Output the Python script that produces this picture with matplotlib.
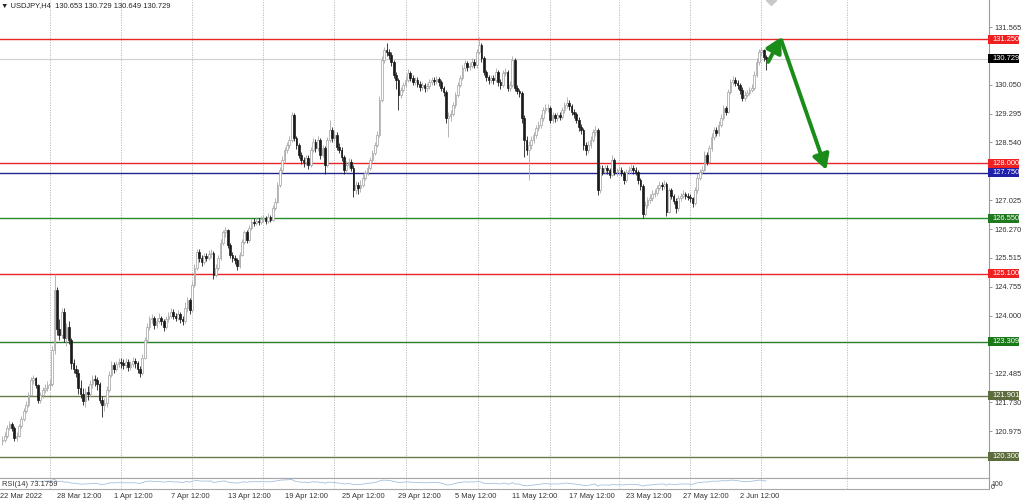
import matplotlib
matplotlib.use('Agg')
import matplotlib.pyplot as plt
import numpy as np
from matplotlib.patches import Rectangle

# ---------------- data ----------------
first_open = 120.70
closes = [
    120.74, 120.84, 121.05, 121.16, 121.05, 120.80, 120.85, 121.10, 121.30, 121.50,
    121.66, 121.92, 122.31, 122.36, 122.18, 121.80, 121.92, 122.05, 122.10, 122.18,
    122.20, 123.10, 124.67, 123.65, 123.50, 124.10, 123.40, 123.70, 123.35, 122.75,
    122.60, 122.50, 122.10, 121.95, 121.75, 122.00, 121.95, 122.20, 122.35, 122.30,
    122.20, 121.80, 121.65, 121.70, 122.05, 122.45, 122.70, 122.60, 122.72, 122.78,
    122.75, 122.70, 122.78, 122.65, 122.72, 122.80, 122.75, 122.60, 122.50, 122.90,
    123.35, 123.70, 123.90, 123.95, 123.75, 123.85, 123.95, 123.85, 123.70, 123.90,
    124.00, 124.10, 124.00, 123.95, 124.05, 123.90, 123.85, 124.20, 124.40, 124.15,
    124.80, 125.25, 125.67, 125.51, 125.41, 125.56, 125.51, 125.62, 125.64, 125.07,
    125.25, 125.51, 125.90, 126.19, 126.24, 125.85, 125.59, 125.51, 125.46, 125.30,
    125.59, 125.93, 126.19, 125.98, 126.30, 126.45, 126.43, 126.48, 126.45, 126.53,
    126.56, 126.48, 126.59, 126.51, 126.82, 126.98, 127.42, 127.82, 128.08, 128.34,
    128.47, 128.60, 129.26, 128.66, 128.47, 128.21, 128.08, 128.03, 128.13, 127.95,
    128.34, 128.55, 128.39, 128.60, 128.21, 128.39, 127.95, 128.60, 128.87, 128.66,
    128.73, 128.42, 128.34, 128.16, 127.82, 127.95, 128.03, 127.87, 127.29, 127.42,
    127.34, 127.42, 127.61, 127.74, 127.87, 128.08, 128.26, 128.47, 128.73, 129.65,
    130.70, 130.96, 130.91, 130.83, 130.65, 130.31, 130.17, 129.78, 129.91, 130.04,
    130.18, 130.36, 130.23, 130.12, 130.18, 130.07, 129.99, 130.04, 129.96, 130.02,
    130.12, 130.18, 130.15, 130.20, 130.12, 129.96, 129.86, 129.18, 129.23, 129.28,
    129.52, 129.78, 130.04, 130.23, 130.49, 130.62, 130.52, 130.54, 130.65, 130.57,
    130.91, 131.09, 130.75, 130.39, 130.25, 130.18, 130.23, 130.18, 130.39, 130.12,
    130.04, 130.36, 130.39, 129.97, 130.04, 130.70, 129.97, 129.89, 129.83, 129.18,
    128.60, 128.34, 128.47, 128.60, 128.73, 128.92, 129.00, 129.18, 129.39, 129.44,
    129.44, 129.13, 129.26, 129.18, 129.26, 129.21, 129.39, 129.52, 129.57, 129.49,
    129.34, 129.28, 129.13, 128.94, 128.87, 128.47, 128.34, 128.47, 128.60, 128.81,
    128.87, 127.29, 127.87, 127.77, 127.87, 127.82, 127.69, 128.08, 127.77, 127.77,
    127.82, 127.74, 127.56, 127.77, 127.82, 127.87, 127.82, 127.77, 127.56, 127.40,
    126.66, 126.90, 127.03, 127.08, 127.19, 127.21, 127.34, 127.42, 127.40, 127.45,
    126.72, 127.29, 127.14, 127.01, 126.82, 127.08, 127.14, 127.19, 127.14, 127.11,
    127.08, 126.95, 127.29, 127.61, 127.77, 127.82, 128.21, 128.03, 128.39, 128.68,
    128.87, 128.79, 129.00, 129.18, 129.44, 129.34, 129.86, 130.12, 130.17, 130.10,
    130.04, 129.91, 129.70, 129.78, 129.83, 129.91, 129.97, 130.31, 130.65, 130.91,
    130.96, 130.78, 130.729,
]
highs = [
    120.85, 120.95, 121.12, 121.25, 121.22, 121.10, 120.95, 121.15, 121.36, 121.58,
    121.75, 122.00, 122.38, 122.45, 122.40, 122.22, 122.00, 122.12, 122.20, 122.28,
    122.35, 123.20, 125.10, 124.75, 123.90, 124.20, 124.20, 123.80, 123.85, 123.40,
    122.85, 122.70, 122.60, 122.30, 122.10, 122.10, 122.15, 122.30, 122.45, 122.45,
    122.40, 122.25, 121.90, 121.85, 122.15, 122.55, 122.80, 122.78, 122.82, 122.88,
    122.90, 122.85, 122.88, 122.85, 122.82, 122.92, 122.90, 122.80, 122.68, 123.00,
    123.45, 123.80, 124.00, 124.05, 124.00, 123.95, 124.08, 124.00, 123.92, 124.00,
    124.10, 124.20, 124.18, 124.08, 124.15, 124.10, 124.00, 124.35, 124.48, 124.45,
    124.90, 125.35, 125.75, 125.75, 125.60, 125.65, 125.65, 125.72, 125.75, 125.70,
    125.35, 125.60, 126.00, 126.25, 126.32, 126.28, 125.90, 125.68, 125.60, 125.52,
    125.68, 126.02, 126.25, 126.25, 126.38, 126.52, 126.55, 126.58, 126.56, 126.62,
    126.65, 126.62, 126.68, 126.65, 126.90, 127.08, 127.50, 127.90, 128.18, 128.42,
    128.56, 128.70, 129.35, 129.30, 128.72, 128.52, 128.28, 128.15, 128.22, 128.20,
    128.42, 128.65, 128.62, 128.70, 128.65, 128.48, 128.45, 128.68, 129.13, 128.95,
    128.85, 128.80, 128.52, 128.42, 128.22, 128.05, 128.12, 128.10, 127.95, 127.52,
    127.50, 127.55, 127.70, 127.82, 127.95, 128.15, 128.35, 128.55, 128.85, 129.75,
    130.80, 131.05, 131.15, 131.00, 130.90, 130.70, 130.38, 130.22, 130.00, 130.12,
    130.28, 130.46, 130.42, 130.30, 130.26, 130.25, 130.15, 130.12, 130.10, 130.10,
    130.20, 130.26, 130.25, 130.28, 130.26, 130.18, 130.02, 129.92, 129.35, 129.40,
    129.60, 129.85, 130.12, 130.32, 130.58, 130.70, 130.68, 130.65, 130.75, 130.72,
    131.00, 131.30, 131.15, 130.80, 130.45, 130.32, 130.32, 130.30, 130.48, 130.45,
    130.20, 130.45, 130.48, 130.45, 130.15, 130.80, 130.75, 130.05, 129.95, 129.90,
    129.25, 128.70, 128.58, 128.70, 128.82, 129.00, 129.10, 129.28, 129.48, 129.55,
    129.55, 129.50, 129.35, 129.32, 129.35, 129.35, 129.48, 129.60, 129.72, 129.65,
    129.55, 129.42, 129.35, 129.20, 129.02, 128.92, 128.55, 128.58, 128.70, 128.90,
    128.98, 128.92, 127.95, 127.95, 127.95, 127.95, 127.88, 128.22, 128.12, 127.88,
    127.92, 127.90, 127.80, 127.85, 127.92, 127.98, 127.95, 127.90, 127.82, 127.62,
    127.45, 127.00, 127.12, 127.18, 127.28, 127.32, 127.42, 127.52, 127.50, 127.55,
    127.50, 127.35, 127.35, 127.20, 127.08, 127.15, 127.22, 127.28, 127.25, 127.22,
    127.20, 127.12, 127.38, 127.70, 127.85, 127.92, 128.32, 128.28, 128.48, 128.78,
    128.95, 128.95, 129.10, 129.28, 129.52, 129.50, 129.95, 130.20, 130.28, 130.25,
    130.18, 130.10, 129.98, 129.88, 129.92, 130.00, 130.08, 130.40, 130.75, 131.00,
    131.03, 131.00, 130.82,
]
lows = [
    120.62, 120.68, 120.80, 121.00, 120.98, 120.70, 120.72, 120.82, 121.05, 121.25,
    121.45, 121.60, 121.88, 122.20, 122.10, 121.72, 121.70, 121.85, 121.98, 122.02,
    122.05, 122.15, 123.00, 123.50, 123.35, 123.40, 123.30, 123.20, 123.25, 122.60,
    122.50, 122.40, 121.95, 121.85, 121.65, 121.60, 121.80, 121.90, 122.10, 122.15,
    122.05, 121.70, 121.35, 121.50, 121.60, 122.00, 122.40, 122.50, 122.55, 122.65,
    122.62, 122.60, 122.62, 122.55, 122.58, 122.65, 122.62, 122.50, 122.40, 122.45,
    122.85, 123.30, 123.62, 123.80, 123.65, 123.68, 123.80, 123.75, 123.60, 123.65,
    123.82, 123.95, 123.90, 123.85, 123.88, 123.80, 123.75, 123.80, 124.10, 124.05,
    124.10, 124.75, 125.20, 125.40, 125.30, 125.35, 125.42, 125.45, 125.52, 124.97,
    125.00, 125.20, 125.45, 125.85, 126.05, 125.78, 125.50, 125.40, 125.35, 125.20,
    125.25, 125.55, 125.88, 125.90, 125.92, 126.25, 126.35, 126.38, 126.38, 126.40,
    126.45, 126.40, 126.42, 126.45, 126.48, 126.78, 126.95, 127.38, 127.75, 128.00,
    128.25, 128.40, 128.55, 128.58, 128.38, 128.12, 127.98, 127.90, 127.95, 127.85,
    127.90, 128.28, 128.30, 128.32, 128.10, 128.15, 127.70, 127.90, 128.55, 128.55,
    128.58, 128.35, 128.25, 128.05, 127.72, 127.75, 127.88, 127.78, 127.10, 127.20,
    127.18, 127.25, 127.38, 127.55, 127.68, 127.82, 128.02, 128.20, 128.42, 128.68,
    129.60, 130.62, 130.80, 130.72, 130.55, 130.22, 129.95, 129.40, 129.70, 129.85,
    129.98, 130.12, 130.15, 130.05, 130.05, 129.98, 129.90, 129.92, 129.85, 129.90,
    129.95, 130.05, 130.05, 130.08, 130.02, 129.88, 129.75, 129.05, 128.68, 129.10,
    129.22, 129.45, 129.72, 129.98, 130.18, 130.42, 130.42, 130.45, 130.48, 130.48,
    130.50, 130.85, 130.65, 130.30, 130.15, 130.08, 130.10, 130.08, 130.12, 130.02,
    129.95, 129.98, 130.28, 129.88, 129.90, 129.98, 129.88, 129.80, 129.72, 129.05,
    128.15, 128.22, 127.55, 128.38, 128.52, 128.65, 128.85, 128.92, 129.10, 129.30,
    129.35, 129.05, 129.05, 129.08, 129.10, 129.12, 129.15, 129.32, 129.45, 129.40,
    129.25, 129.18, 129.05, 128.85, 128.75, 128.35, 128.22, 128.25, 128.40, 128.55,
    128.72, 127.15, 127.22, 127.68, 127.70, 127.72, 127.60, 127.65, 127.68, 127.65,
    127.70, 127.65, 127.45, 127.50, 127.70, 127.75, 127.72, 127.68, 127.45, 127.30,
    126.55, 126.60, 126.82, 126.95, 127.00, 127.10, 127.15, 127.28, 127.30, 127.32,
    126.60, 126.68, 127.05, 126.92, 126.70, 126.75, 127.00, 127.08, 127.05, 127.02,
    126.98, 126.85, 126.90, 127.22, 127.55, 127.70, 127.78, 127.95, 127.98, 128.32,
    128.60, 128.70, 128.72, 128.95, 129.12, 129.25, 129.30, 129.80, 130.05, 130.02,
    129.95, 129.82, 129.62, 129.62, 129.72, 129.78, 129.85, 129.92, 130.25, 130.58,
    130.80, 130.68, 130.45,
]

levels = [131.250, 128.000, 127.750, 126.550, 125.100, 123.309, 121.901, 120.300]
level_labels = ['131.250', '128.000', '127.750', '126.550', '125.100', '123.309', '121.901', '120.300']
level_line_colors = ['#e8262a', '#e8262a', '#23238f', '#2a8a2a', '#e8262a', '#2c7d2c', '#6a7a48', '#6a7a48']
level_box_colors = ['#ee2020', '#ee2020', '#2020a8', '#1f7a1f', '#ee2020', '#1a7a1a', '#5d6c3c', '#5d6c3c']
last_price = 130.729
last_label = '130.729'
# scale labels that stay visible next to the level boxes
y_ticks = [131.565, 130.050, 129.295, 128.540, 127.025,
           126.270, 125.515, 124.755, 124.000, 122.485, 121.730, 120.975]
x_tick_bars = [-1, 23, 47, 71, 95, 119, 143, 167, 191, 215, 239, 263, 287, 311]
x_tick_labels = ['22 Mar 2022', '28 Mar 12:00', '1 Apr 12:00', '7 Apr 12:00', '13 Apr 12:00',
                 '19 Apr 12:00', '25 Apr 12:00', '29 Apr 12:00', '5 May 12:00', '11 May 12:00',
                 '17 May 12:00', '23 May 12:00', '27 May 12:00', '2 Jun 12:00']
grid_bars = [20.2, 50.1, 80.0, 109.9, 139.8, 170.1, 200.4, 230.7, 260.2, 290.1, 320.0, 356.2]
arrow_up = [(322.9, 130.65), (328.4, 131.30)]
arrow_down = [(328.4, 131.22), (347.4, 127.82)]
title_text = 'USDJPY,H4  130.653 130.729 130.649 130.729'
rsi_text = 'RSI(14) 73.1759'

# ---------------- figure ----------------
FONT = ['Liberation Sans', 'DejaVu Sans']
plt.rcParams['font.family'] = FONT
W, H = 1024, 501
fig = plt.figure(figsize=(W / 100, H / 100), dpi=100)
fig.patch.set_facecolor('white')

ax_right_px = 989
main_bottom_px = 478
rsi_bottom_px = 489
ax = fig.add_axes([0, (H - main_bottom_px) / H, ax_right_px / W, main_bottom_px / H])
ax2 = fig.add_axes([0, (H - rsi_bottom_px) / H, ax_right_px / W, (rsi_bottom_px - main_bottom_px) / H], sharex=ax)

n = len(closes)
c = np.array(closes)
h = np.array(highs)
l = np.array(lows)
o = np.array([first_open] + closes[:-1])
idx = np.arange(n)
up = c >= o

xmin, xmax = -0.42, 416.0
ax.set_xlim(xmin, xmax)
ax.set_ylim(119.743, 132.273)

# grid
for g in grid_bars:
    ax.axvline(g, color='#b4b4b4', lw=0.6, ls=(0, (1.5, 1.5)), zorder=0)
    ax2.axvline(g, color='#c4c4c4', lw=0.6, ls=(0, (1.5, 1.5)), zorder=0)

# price levels
ax.axhline(last_price, color='#cfcfcf', lw=0.8, zorder=1)
for lv, col in zip(levels, level_line_colors):
    ax.axhline(lv, color=col, lw=1.0, zorder=1)

# candles
ax.vlines(idx[up], l[up], h[up], color='#a9a9a9', lw=0.6, zorder=2)
ax.vlines(idx[~up], l[~up], h[~up], color='#1e1e1e', lw=0.6, zorder=2)
ax.bar(idx[up], c[up] - o[up], bottom=o[up], width=0.72, color='white',
       edgecolor='#a0a0a0', lw=0.5, zorder=3)
ax.bar(idx[~up], c[~up] - o[~up], bottom=o[~up], width=0.72, color='#1a1a1a',
       edgecolor='#1a1a1a', lw=0.5, zorder=3)

# arrows
arrow_col = '#1a8c1a'
for start, end in (arrow_up, arrow_down):
    ax.annotate('', xy=end, xytext=start,
                arrowprops=dict(arrowstyle='-|>,head_length=0.9,head_width=0.5', color=arrow_col,
                                lw=2.8, shrinkA=0, shrinkB=0), zorder=6)

# small grey marker at top
ax.plot([324], [132.28], marker='D', ms=5, color='#c8c8c8', clip_on=True, zorder=4)

# axes styling
for s in ['top', 'left']:
    ax.spines[s].set_visible(False)
ax.spines['right'].set_color('#9a9a9a')
ax.spines['bottom'].set_color('#a8a8a8')
ax.spines['right'].set_linewidth(0.8)
ax.spines['bottom'].set_linewidth(0.8)
ax.yaxis.tick_right()
ax.set_yticks(y_ticks)
ax.set_yticklabels([f'{v:.3f}' for v in y_ticks])
ax.tick_params(axis='y', length=2, width=0.6, color='#888888', labelsize=5.4,
               labelcolor='#333333', pad=2)
ax.tick_params(axis='x', bottom=False, labelbottom=False)

# level labels (boxes on the right axis)
ytr = ax.get_yaxis_transform()
box_h = 9 / 38.15
box_w = 31 / ax_right_px
for lv, txt, bc in zip(levels + [last_price], level_labels + [last_label], level_box_colors + ['#000000']):
    ax.add_patch(Rectangle((1.0 - 1 / ax_right_px, lv - box_h / 2), box_w, box_h,
                           transform=ytr, clip_on=False, facecolor=bc, edgecolor='none', zorder=10))
    ax.text(1.0 + 3 / ax_right_px, lv, txt, transform=ytr, color='white', fontsize=5.4,
            ha='left', va='center', clip_on=False, zorder=11)

# title
fig.text(1 / W, 1 - 5.5 / H, '\u25BC ' + title_text, fontsize=5.4, color='#222222',
         ha='left', va='center', family=FONT)

# RSI panel
delta = np.diff(c)
gain = np.clip(delta, 0, None)
loss = np.clip(-delta, 0, None)
rsi = np.full(n, np.nan)
period = 14
ag = gain[:period].mean()
al = loss[:period].mean()
rsi[period] = 100 - 100 / (1 + ag / al)
for i in range(period + 1, n):
    ag = (ag * (period - 1) + gain[i - 1]) / period
    al = (al * (period - 1) + loss[i - 1]) / period
    rsi[i] = 100 - 100 / (1 + ag / al) if al > 0 else 100
ax2.plot(idx, rsi, color='#a6c0dc', lw=0.6, zorder=2)
ax2.set_ylim(0, 100)
ax2.set_xlim(xmin, xmax)
ax2.spines['left'].set_visible(False)
ax2.spines['top'].set_color('#a8a8a8')
ax2.spines['bottom'].set_color('#a8a8a8')
ax2.spines['right'].set_color('#9a9a9a')
for s in ['top', 'bottom', 'right']:
    ax2.spines[s].set_linewidth(0.8)
ax2.set_yticks([])
ax2.text(0.002, 0.42, rsi_text, transform=ax2.transAxes, fontsize=5.4, color='#333333',
         ha='left', va='center')
fig.text(991 / W, 1 - 485 / H, '100', fontsize=5.0, color='#333333', ha='left', va='center')
fig.text(991 / W, 1 - 487.5 / H, '0', fontsize=5.0, color='#333333', ha='left', va='center')
ax2.set_xticks(x_tick_bars)
ax2.set_xticklabels(x_tick_labels, ha='left')
ax2.tick_params(axis='x', length=0, labelsize=5.4, labelcolor='#333333', pad=3)

fig.savefig('out.png', dpi=100, facecolor='white')
